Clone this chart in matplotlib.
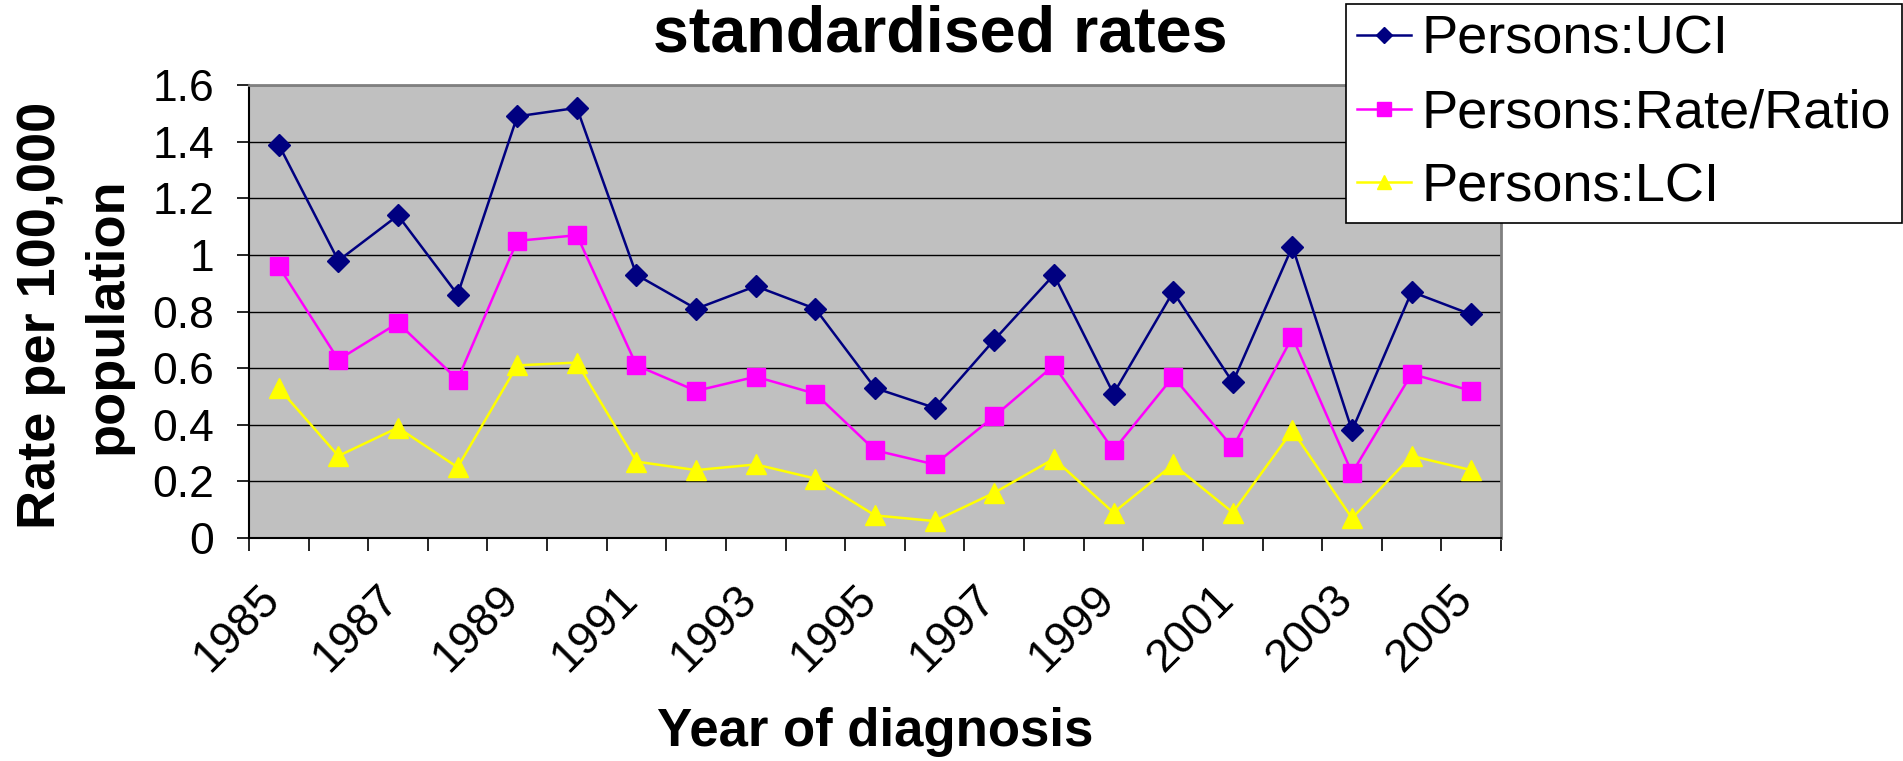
import matplotlib
matplotlib.use('Agg')
import matplotlib.pyplot as plt
import matplotlib.transforms as mtransforms

plt.rcParams['font.family'] = ['Liberation Sans', 'DejaVu Sans']

# Datos
years = list(range(1985, 2006))
uci = [1.39, 0.98, 1.14, 0.86, 1.49, 1.52, 0.93, 0.81, 0.89, 0.81, 0.53,
       0.46, 0.70, 0.93, 0.51, 0.87, 0.55, 1.03, 0.38, 0.87, 0.79]
rate = [0.96, 0.63, 0.76, 0.56, 1.05, 1.07, 0.61, 0.52, 0.57, 0.51, 0.31,
        0.26, 0.43, 0.61, 0.31, 0.57, 0.32, 0.71, 0.23, 0.58, 0.52]
lci = [0.53, 0.29, 0.39, 0.25, 0.61, 0.62, 0.27, 0.24, 0.26, 0.21, 0.08,
       0.06, 0.16, 0.28, 0.09, 0.26, 0.09, 0.38, 0.07, 0.29, 0.24]
y_ticks = [0, 0.2, 0.4, 0.6, 0.8, 1, 1.2, 1.4, 1.6]
y_tick_labels = ['0', '0.2', '0.4', '0.6', '0.8', '1', '1.2', '1.4', '1.6']

fig = plt.figure(figsize=(19.03, 7.61), dpi=100)
ax = fig.add_axes([0.1308, 0.293, 0.658, 0.595])
ax.set_facecolor('#C0C0C0')

x = list(range(len(years)))

ax.plot(x, uci, color='#000080', lw=1.8, marker='D', ms=11, label='Persons:UCI', zorder=5)
ax.plot(x, rate, color='#FF00FF', lw=1.8, marker='s', ms=13, label='Persons:Rate/Ratio', zorder=5)
ax.plot(x, lci, color='#FFFF00', lw=1.8, marker='^', ms=14, label='Persons:LCI', zorder=5)

# Ejes
ax.set_xlim(-0.5, len(years) - 0.5)
ax.set_ylim(0, 1.6)
ax.set_yticks(y_ticks)
ax.set_yticklabels(y_tick_labels)
ax.yaxis.grid(True, color='black', lw=1)
ax.set_axisbelow(True)

ax.set_xticks([i - 0.5 for i in range(len(years) + 1)])
ax.set_xticklabels([])
ax.set_xticks(x[::2], minor=True)
ax.set_xticklabels([str(y) for y in years[::2]], minor=True, rotation=45,
                   ha='right', va='top', rotation_mode='anchor')
ax.tick_params(axis='x', which='major', length=9.5, width=1.2)
ax.tick_params(axis='x', which='minor', length=0, pad=28, labelsize=33)
ax.tick_params(axis='y', length=9, width=1.2, labelsize=32, pad=16)

# desplazar las etiquetas del eje x hacia la izquierda
offset = mtransforms.ScaledTranslation(-0.21, 0, fig.dpi_scale_trans)
for lbl in ax.get_xticklabels(minor=True):
    lbl.set_transform(lbl.get_transform() + offset)

for s in ['left', 'bottom']:
    ax.spines[s].set_color('black')
    ax.spines[s].set_linewidth(1.5)
for s in ['top', 'right']:
    ax.spines[s].set_color('#808080')
    ax.spines[s].set_linewidth(2)

# Textos
fig.text(0.494, 0.955, 'standardised rates', fontsize=46.5, fontweight='bold',
         ha='center', va='center')
fig.text(0.039, 0.585, 'Rate per 100,000\npopulation', fontsize=39,
         fontweight='bold', rotation=90, ha='center', va='center',
         multialignment='center', linespacing=1.4)
fig.text(0.46, 0.038, 'Year of diagnosis', fontsize=38, fontweight='bold',
         ha='center', va='center')

leg = fig.legend(loc='upper right', bbox_to_anchor=(0.9995, 0.995),
                 bbox_transform=fig.transFigure, fontsize=39, fancybox=False,
                 framealpha=1, edgecolor='black', borderaxespad=0,
                 handlelength=1.0, handletextpad=0.2, labelspacing=0.44,
                 borderpad=0.2, markerscale=0.75)
leg.get_frame().set_linewidth(1.2)

fig.savefig('out.png', dpi=100)
